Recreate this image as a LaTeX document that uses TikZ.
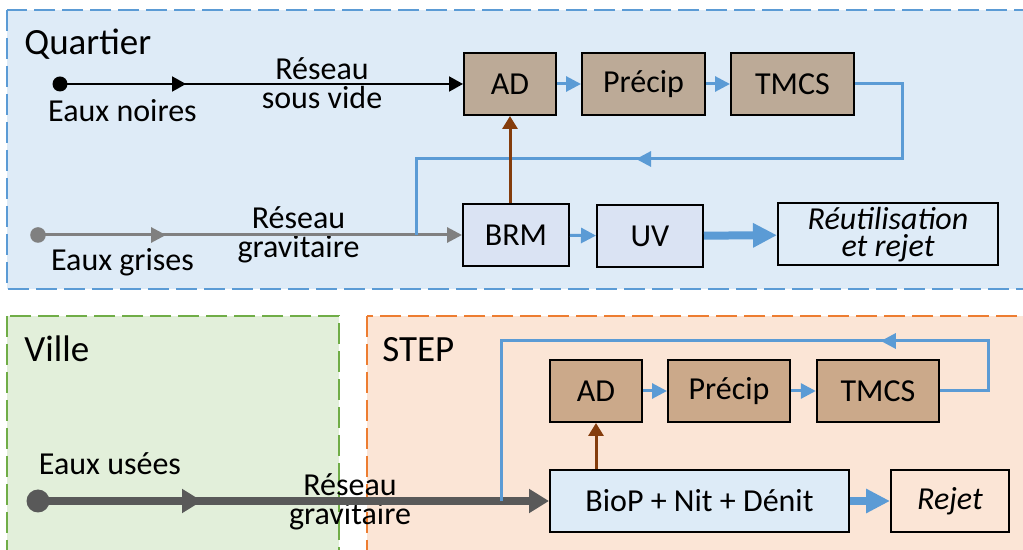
\documentclass[tikz,border=0pt]{standalone}
\usepackage{fontspec}
\setmainfont{Carlito}
\usetikzlibrary{arrows.meta}
\usetikzlibrary{decorations.markings}
\definecolor{quartierfond}{HTML}{DEEBF7}
\definecolor{quartierbord}{HTML}{5B9BD5}
\definecolor{villefond}{HTML}{E2EFDA}
\definecolor{villebord}{HTML}{70AD47}
\definecolor{stepfond}{HTML}{FBE5D6}
\definecolor{stepbord}{HTML}{ED7D31}
\definecolor{boueQ}{HTML}{BCAA97}
\definecolor{boueS}{HTML}{CBA98A}
\definecolor{bleuboite}{HTML}{DAE3F3}
\definecolor{bleubio}{HTML}{DDEBF7}
\definecolor{bleu}{HTML}{5B9BD5}
\definecolor{brun}{HTML}{843C0C}
\definecolor{grisQ}{HTML}{808080}
\definecolor{grisV}{HTML}{595959}

\begin{document}
\begin{tikzpicture}[x=0.5pt,y=-0.5pt,
    font=\fontsize{16}{14.5}\selectfont,
    zone/.style={line width=1.3pt,dash pattern=on 10.5pt off 3.5pt},
    boite/.style={draw=black,line width=1pt,minimum height=31pt,inner sep=0pt},
    titre/.style={font=\fontsize{18.5}{22}\selectfont,anchor=base west,inner sep=0pt},
    texte/.style={anchor=base,inner sep=0pt,align=center},
    point/.style={circle,fill,inner sep=0pt,minimum size=#1},
    milieu/.style={postaction={decorate},decoration={markings,
        mark=at position #1 with {\arrow{>}}}},
    fleche/.style={draw=bleu,line width=1.5pt,>={Triangle[length=7.5pt,width=7.5pt]},->},
    grosse/.style={draw=bleu,line width=4pt,>={Triangle[length=12pt,width=11.5pt]},->},
    retour/.style={draw=bleu,line width=1.5pt,>={Triangle[length=7.5pt,width=7.5pt]}},
    boue/.style={draw=brun,line width=1.5pt,>={Triangle[length=6.5pt,width=7.5pt]},->}
    ]
\clip (0,0) rectangle (1023,550);
\useasboundingbox (0,0) rectangle (1023,550);

% zones
\draw[zone,draw=quartierbord,fill=quartierfond] (7,10) rectangle (1040,289);
\draw[zone,draw=villebord,fill=villefond] (7,316) rectangle (339,570);
\draw[zone,draw=stepbord,fill=stepfond] (367,316) rectangle (1040,570);
\node[titre] (quartier) at (24,55) {Quartier};
\node[titre] (ville) at (24,362) {Ville};
\node[titre] (step) at (382,362) {STEP};

% quartier
\node[boite,fill=boueQ,minimum width=46pt] (AD1) at (510,84) {AD};
\node[boite,fill=boueQ,minimum width=61.5pt] (precip1) at (643.5,84) {Précip};
\node[boite,fill=boueQ,minimum width=61.5pt] (TMCS1) at (792.5,84) {TMCS};
\node[boite,fill=bleuboite,minimum width=53pt] (BRM) at (516,235) {BRM};
\node[boite,fill=bleuboite,minimum width=53pt] (UV) at (650,236) {UV};
\node[boite,fill=quartierfond,minimum width=110pt,align=center,
    font=\fontsize{16}{13.5}\selectfont\itshape] (reutil) at (888,234.5) {Réutilisation\\et rejet};

\node[point=7.5pt,black] (noir) at (60,84) {};
\node[point=7.8pt,grisQ] (gris) at (38,235) {};
\coordinate (jQ) at (416,235);
\node[texte] (noires) at (122.5,122) {Eaux noires};
\node[texte] (grises) at (122.5,271) {Eaux grises};
\node[texte] (vide) at (322,109) {Réseau\\sous vide};
\node[texte] (grav1) at (298.5,258) {Réseau\\gravitaire};

\draw[line width=1pt,>={Triangle[length=7pt,width=7.5pt]},->,milieu=63pt] (noir.center) -- (AD1.west);
\draw[grisQ,line width=1.5pt,>={Triangle[length=7.5pt,width=7.5pt]},->,milieu=64pt] (gris.center) -- (BRM.west);
\draw[retour,milieu=194pt] (TMCS1.east) -| (902,159) -| (jQ);
\draw[fleche] (AD1) -- (precip1);
\draw[fleche] (precip1) -- (TMCS1);
\draw[fleche] (BRM) -- (UV);
\draw[grosse] (UV) -- (reutil);
\draw[boue] (BRM.north -| AD1.south) -- (AD1.south);

% step
\node[boite,fill=boueS,minimum width=46pt] (AD2) at (596,391) {AD};
\node[boite,fill=boueS,minimum width=61pt] (precip2) at (729,391) {Précip};
\node[boite,fill=boueS,minimum width=61.2pt] (TMCS2) at (878,391) {TMCS};
\node[boite,fill=bleubio,minimum width=149.5pt] (bio) at (699.5,501) {BioP + Nit + Dénit};
\node[boite,fill=stepfond,minimum width=59pt,font=\fontsize{16}{14.5}\selectfont\itshape] (rejet) at (950,501) {Rejet};

\node[point=11.5pt,grisV] (use) at (38,501) {};
\coordinate (jS) at (501,501);
\node[texte] (usees) at (110,475) {Eaux usées};
\node[texte] (grav2) at (350,524) {Réseau\\gravitaire};

\draw[grisV,line width=4pt,>={Triangle[length=10pt,width=11.5pt]},->,milieu=82pt] (use.center) -- (bio.west);
\draw[retour,milieu=102.5pt] (TMCS2.east) -| (988,341) -| (jS);
\draw[fleche] (AD2) -- (precip2);
\draw[fleche] (precip2) -- (TMCS2);
\draw[grosse] (bio) -- (rejet);
\draw[boue] (bio.north -| AD2.south) -- (AD2.south);
\end{tikzpicture}
\end{document}
